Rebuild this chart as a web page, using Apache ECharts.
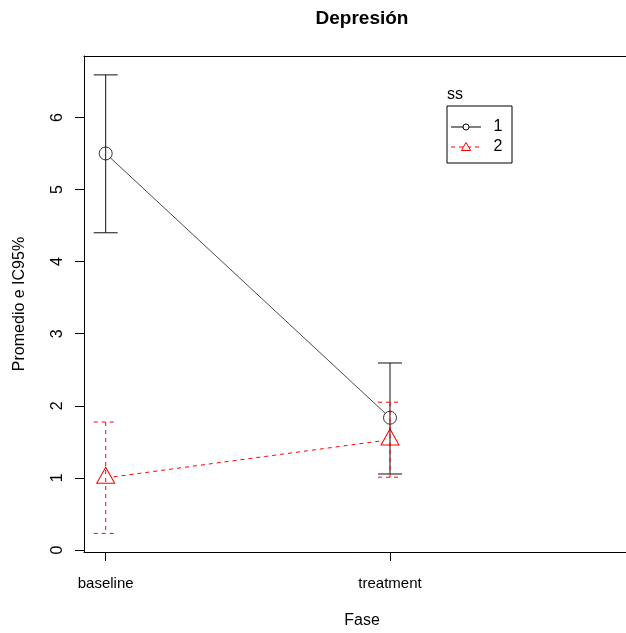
<!DOCTYPE html>
<html>
<head>
<meta charset="utf-8">
<script src="https://cdn.jsdelivr.net/npm/echarts@6/dist/echarts.min.js"></script>
<style>
  html, body { margin: 0; padding: 0; background: #fff; }
  #chart { width: 626px; height: 633px; }
</style>
</head>
<body>
<div id="chart"></div>
<script>
// Phases on the x axis (positions 1 and 2)
const phases = ['baseline', 'treatment'];
const phasePos = [1, 2];

// Group ss = 1: mean and 95% CI
const ss1Mean = [5.50, 1.835];
const ss1Low = [4.40, 1.054];
const ss1High = [6.59, 2.594];

// Group ss = 2: mean and 95% CI
const ss2Mean = [1.00, 1.53];
const ss2Low = [0.23, 1.01];
const ss2High = [1.775, 2.05];

const yTicks = [0, 1, 2, 3, 4, 5, 6];

const FONT = 'Liberation Sans, Arial, sans-serif';
const RED = '#ff0000';

const chart = echarts.init(document.getElementById('chart'), null, { renderer: 'canvas' });

function pairs(ys) { return phasePos.map((x, i) => [x, ys[i]]); }
function ciRows(lo, hi) { return phasePos.map((x, i) => [x, lo[i], hi[i]]); }

function errorBars(color, dash) {
  return function (params, api) {
    const x = api.value(0);
    const top = api.coord([x, api.value(2)]);
    const bot = api.coord([x, api.value(1)]);
    const half = 12;
    const style = { stroke: color, lineWidth: 1, lineDash: dash, fill: null };
    return {
      type: 'group',
      children: [
        { type: 'line', shape: { x1: top[0], y1: top[1], x2: bot[0], y2: bot[1] }, style },
        { type: 'line', shape: { x1: top[0] - half, y1: top[1], x2: top[0] + half, y2: top[1] }, style },
        { type: 'line', shape: { x1: bot[0] - half, y1: bot[1], x2: bot[0] + half, y2: bot[1] }, style }
      ]
    };
  };
}

const option = {
  animation: false,
  backgroundColor: '#fff',
  grid: { left: 84, right: 0, top: 56, bottom: 81, show: false },
  xAxis: [
    {
      type: 'value',
      min: 0.9237, max: 2.830,
      splitLine: { show: false },
      axisLine: { show: true, onZero: false, lineStyle: { color: '#000', width: 1 } },
      axisTick: { show: true, length: 9, customValues: phasePos, lineStyle: { color: '#000' } },
      axisLabel: {
        show: true, customValues: phasePos, margin: 24,
        fontSize: 15, fontFamily: FONT, color: '#000',
        formatter: v => phases[phasePos.indexOf(Math.round(v))] || ''
      }
    },
    {
      // top edge of the plot box
      type: 'value', position: 'top',
      min: 0.9237, max: 2.830,
      splitLine: { show: false },
      axisLine: { show: true, onZero: false, lineStyle: { color: '#000', width: 1 } },
      axisTick: { show: false },
      axisLabel: { show: false }
    }
  ],
  yAxis: {
    type: 'value',
    min: -0.0277, max: 6.852,
    splitLine: { show: false },
    axisLine: { show: true, onZero: false, lineStyle: { color: '#000', width: 1 } },
    axisTick: { show: true, length: 9, customValues: yTicks, lineStyle: { color: '#000' } },
    axisLabel: {
      show: true, customValues: yTicks, rotate: 90, margin: 18,
      fontSize: 16, fontFamily: FONT, color: '#000'
    }
  },
  series: [
    {
      name: '1', type: 'line', data: pairs(ss1Mean), z: 2,
      lineStyle: { color: '#4a4a4a', width: 1 },
      symbol: 'circle', symbolSize: 13,
      itemStyle: { color: '#fff', borderColor: '#333', borderWidth: 1 }
    },
    {
      name: '2', type: 'line', data: pairs(ss2Mean), z: 2,
      lineStyle: { color: RED, width: 1, type: [4, 4] },
      symbol: 'triangle', symbolSize: [18, 16], symbolOffset: [0, -2.7],
      itemStyle: { color: '#fff', borderColor: RED, borderWidth: 1 }
    },
    {
      type: 'custom', data: ciRows(ss1Low, ss1High), z: 5,
      renderItem: errorBars('#111', null)
    },
    {
      type: 'custom', data: ciRows(ss2Low, ss2High), z: 6,
      renderItem: errorBars(RED, [4, 4])
    }
  ],
  graphic: [
    { type: 'text', x: 362, y: 19, style: { text: 'Depresión', font: 'bold 19px ' + FONT, fill: '#000', textAlign: 'center', textVerticalAlign: 'middle' } },
    { type: 'text', x: 362, y: 621, style: { text: 'Fase', font: '16px ' + FONT, fill: '#000', textAlign: 'center', textVerticalAlign: 'middle' } },
    { type: 'text', x: 20, y: 304, rotation: Math.PI / 2, style: { text: 'Promedio e IC95%', font: '16px ' + FONT, fill: '#000', textAlign: 'center', textVerticalAlign: 'middle' } },
    // legend
    { type: 'text', x: 447, y: 95, style: { text: 'ss', font: '16px ' + FONT, fill: '#000', textAlign: 'left', textVerticalAlign: 'middle' } },
    { type: 'rect', shape: { x: 447, y: 106, width: 65, height: 57 }, style: { fill: null, stroke: '#000', lineWidth: 1 } },
    { type: 'line', shape: { x1: 451, y1: 127, x2: 481, y2: 127 }, style: { stroke: '#000', lineWidth: 1 } },
    { type: 'circle', shape: { cx: 466, cy: 127, r: 3 }, style: { fill: '#fff', stroke: '#000', lineWidth: 1 } },
    { type: 'text', x: 498, y: 127, style: { text: '1', font: '16px ' + FONT, fill: '#000', textAlign: 'center', textVerticalAlign: 'middle' } },
    { type: 'line', shape: { x1: 451, y1: 147, x2: 481, y2: 147 }, style: { stroke: RED, lineWidth: 1, lineDash: [4, 4] } },
    { type: 'polygon', shape: { points: [[466, 142.5], [470.6, 150.5], [461.4, 150.5]] }, style: { fill: '#fff', stroke: RED, lineWidth: 1 } },
    { type: 'text', x: 498, y: 147, style: { text: '2', font: '16px ' + FONT, fill: '#000', textAlign: 'center', textVerticalAlign: 'middle' } }
  ]
};

chart.setOption(option);
</script>
</body>
</html>
